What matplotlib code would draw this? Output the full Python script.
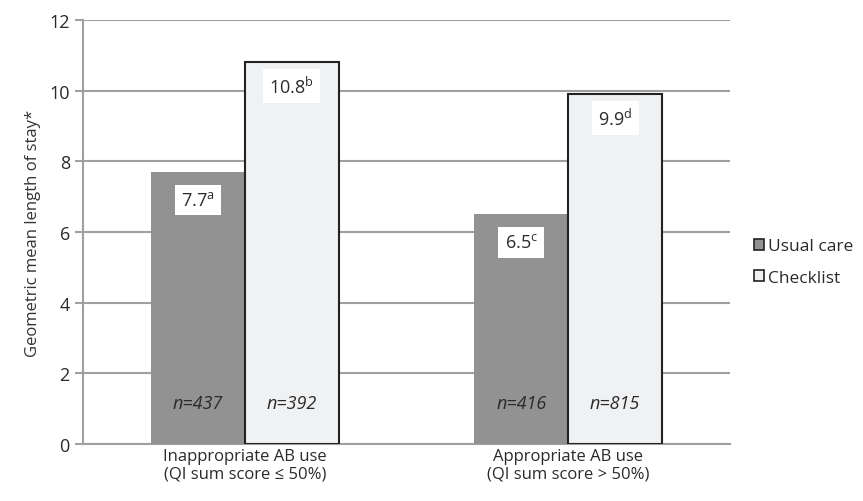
import numpy as np
import matplotlib.pyplot as plt
from matplotlib.patches import Patch

plt.rcParams['font.family'] = ['Open Sans', 'DejaVu Sans']
plt.rcParams['mathtext.fontset'] = 'custom'
plt.rcParams['mathtext.rm'] = 'Open Sans'

# Дані
groups = ["Inappropriate AB use\n(QI sum score ≤ 50%)", "Appropriate AB use\n(QI sum score > 50%)"]
usual_care = [7.7, 6.5]
checklist = [10.8, 9.9]
usual_sup = ["a", "c"]
check_sup = ["b", "d"]
usual_n = [437, 416]
check_n = [392, 815]

grid_col = '#a0a0a0'
usual_col = '#929292'
check_col = '#f0f1f3'
txt_col = '#2a2a2a'

fig = plt.figure(figsize=(8.63, 5.02), dpi=100)
ax = fig.add_axes([83 / 863, 57 / 502, 647 / 863, 424 / 502])

x = np.arange(len(groups))
w = 0.29
ax.bar(x - w / 2, usual_care, w, color=usual_col, edgecolor='none', zorder=3)
ax.bar(x + w / 2, checklist, w, color=check_col, edgecolor='#222222', linewidth=1.5, zorder=3)

box = dict(boxstyle='square,pad=0.35', facecolor='white', edgecolor='none')
for i in range(len(groups)):
    ax.annotate(f"{usual_care[i]}$^{{\\mathrm{{{usual_sup[i]}}}}}$", (x[i] - w / 2, usual_care[i]),
                xytext=(0, -28), textcoords='offset pixels', ha='center', va='center',
                fontsize=13, color=txt_col, bbox=box, zorder=5)
    ax.annotate(f"{checklist[i]}$^{{\\mathrm{{{check_sup[i]}}}}}$", (x[i] + w / 2, checklist[i]),
                xytext=(0, -24), textcoords='offset pixels', ha='center', va='center',
                fontsize=13, color=txt_col, bbox=box, zorder=5)
    ax.text(x[i] - w / 2, 1.15, f"n={usual_n[i]}", ha='center', va='center',
            fontsize=13, style='italic', color=txt_col, zorder=5)
    ax.text(x[i] + w / 2, 1.15, f"n={check_n[i]}", ha='center', va='center',
            fontsize=13, style='italic', color=txt_col, zorder=5)

ax.set_xlim(-0.5, 1.5)
ax.set_ylim(0, 12)
ax.set_yticks(range(0, 13, 2))
ax.yaxis.grid(True, color=grid_col, linewidth=1.5, zorder=0)
ax.set_axisbelow(True)
ax.set_xticks(x)
ax.set_xticklabels(groups, fontsize=12, color=txt_col, linespacing=1.1)
ax.tick_params(axis='x', length=0, pad=3)
ax.tick_params(axis='y', color=grid_col, width=1.5, length=6, labelsize=13, labelcolor=txt_col)
for s in ['top', 'right']:
    ax.spines[s].set_visible(False)
ax.spines['left'].set_color(grid_col)
ax.spines['left'].set_linewidth(1.5)
ax.spines['bottom'].set_color(grid_col)
ax.spines['bottom'].set_linewidth(1.5)
ax.set_ylabel("Geometric mean length of stay*", fontsize=12, color='#333333', labelpad=6)

handles = [Patch(facecolor=usual_col, edgecolor='#222222', linewidth=1.2, label='Usual care'),
           Patch(facecolor=check_col, edgecolor='#222222', linewidth=1.2, label='Checklist')]
fig.legend(handles=handles, loc='center left', bbox_to_anchor=(738 / 863, 1 - 263 / 502),
           frameon=False, fontsize=12.5, handlelength=0.6, handleheight=0.6,
           handletextpad=0.25, labelspacing=0.9, labelcolor=txt_col)

fig.savefig('out.png', dpi=100)
